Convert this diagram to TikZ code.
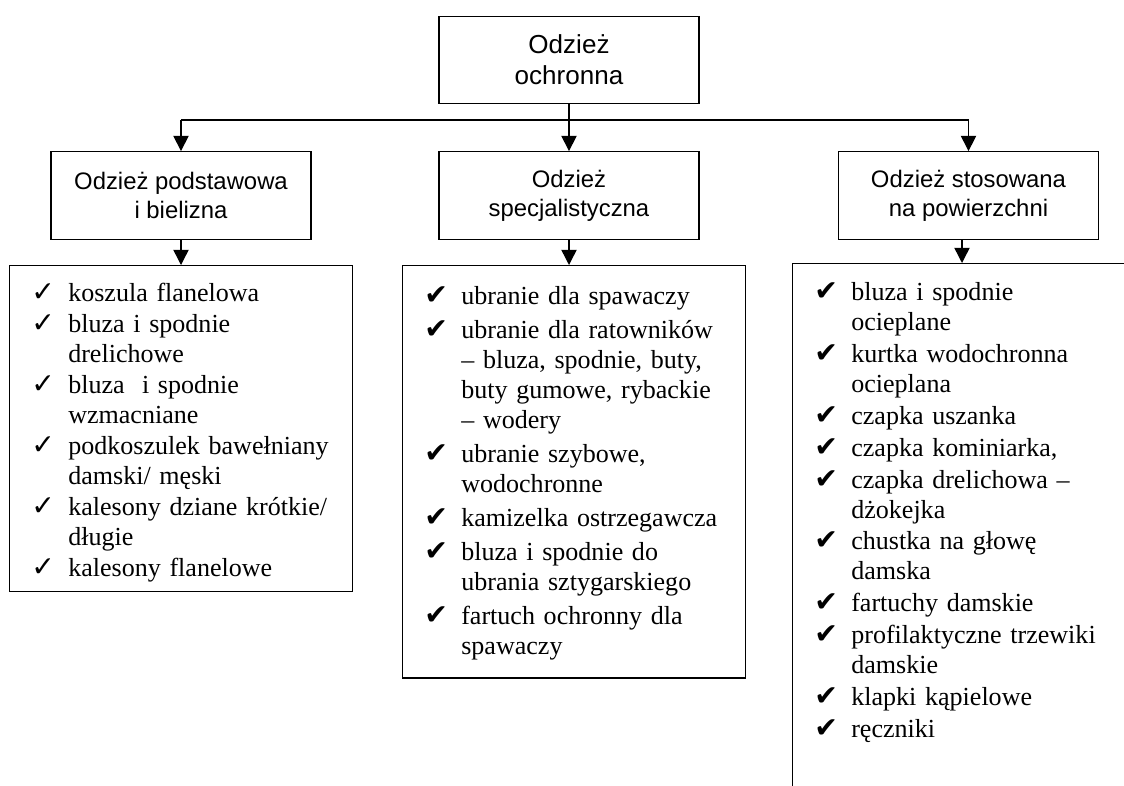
\documentclass[tikz,border=0pt]{standalone}
\usepackage{fontspec}
\setmainfont{Liberation Serif}
\newfontfamily\arial{Liberation Sans}
\newfontfamily\checkfont{DejaVu Sans}
\usetikzlibrary{arrows.meta,positioning}

\newcommand{\chk}{{\checkfont\fontsize{13}{12}\selectfont ✓}}
\newcommand{\chkb}{{\checkfont\fontsize{13}{12}\selectfont ✔}}

\begin{document}
\begin{tikzpicture}[x=0.4608pt, y=-0.4608pt, line width=0.65pt,
            box/.style = {draw, rectangle, align=center,
                minimum width=119.8pt, minimum height=40.3pt,
                font=\arial\fontsize{11}{13.4}\selectfont},
            list/.style = {draw, rectangle, anchor=north west,
                inner sep=0pt, text width=158pt, align=left,
                font=\fontsize{12}{13.8}\selectfont},
            arr/.style = {-{Triangle[width=7pt,length=7pt]}}]

        \clip[use as bounding box] (0,0) rectangle (1124,785);

        % Top box
        \node[box, font=\arial\fontsize{12}{14.3}\selectfont] (root) at (569,60) {Odzież\\ochronna};

        % Groups
        \node[box] (basic) at (181,195.5) {Odzież podstawowa\\i bielizna};
        \node[box] (special) at (569,195.5) {Odzież\\specjalistyczna};
        \node[box] (surface) at (968.5,195.5) {Odzież stosowana\\na powierzchni};

        % Bus line
        \coordinate (bus) at (569,120);
        \draw (root.south) -- (bus);
        \draw (basic.north |- bus) -- (surface.north |- bus);
        \draw[arr] (basic.north |- bus) -- (basic);
        \draw[arr] (bus) -- (special);
        \draw[arr] (surface.north |- bus) -- (surface);

        % Lists
        \node[list, text height=16.6pt, text depth=133.6pt] (basicList) at (9,265) {%
            \begin{tabular}[t]{@{\hspace{10pt}}p{17pt}@{}l@{}}
            \chk & koszula flanelowa\\[0.5pt]
            \chk & bluza i spodnie\\
                 & drelichowe\\[0.5pt]
            \chk & bluza~ i spodnie\\
                 & wzmacniane\\[0.5pt]
            \chk & podkoszulek bawełniany\\
                 & damski/ męski\\[0.5pt]
            \chk & kalesony dziane krótkie/\\
                 & długie\\[0.5pt]
            \chk & kalesony flanelowe
            \end{tabular}};

        \node[list, text height=18pt, text depth=171.9pt] (specialList) at (402,265) {%
            \begin{tabular}[t]{@{\hspace{10pt}}p{17pt}@{}l@{}}
            \chkb & ubranie dla spawaczy\\[1.9pt]
            \chkb & ubranie dla ratowników\\
                  & -- bluza, spodnie, buty,\\
                  & buty gumowe, rybackie\\
                  & -- wodery\\[1.9pt]
            \chkb & ubranie szybowe,\\
                  & wodochronne\\[1.9pt]
            \chkb & kamizelka ostrzegawcza\\[1.9pt]
            \chkb & bluza i spodnie do\\
                  & ubrania sztygarskiego\\[1.9pt]
            \chkb & fartuch ochronny dla\\
                  & spawaczy
            \end{tabular}};

        \node[list, text height=17pt, text depth=240pt] (surfaceList) at (792,263) {%
            \begin{tabular}[t]{@{\hspace{10pt}}p{17pt}@{}l@{}}
            \chkb & bluza i spodnie\\
                  & ocieplane\\[0.9pt]
            \chkb & kurtka wodochronna\\
                  & ocieplana\\[0.9pt]
            \chkb & czapka uszanka\\[0.9pt]
            \chkb & czapka kominiarka,\\[0.9pt]
            \chkb & czapka drelichowa --\\
                  & dżokejka\\[0.9pt]
            \chkb & chustka na głowę\\
                  & damska\\[0.9pt]
            \chkb & fartuchy damskie\\[0.9pt]
            \chkb & profilaktyczne trzewiki\\
                  & damskie\\[0.9pt]
            \chkb & klapki kąpielowe\\[0.9pt]
            \chkb & ręczniki
            \end{tabular}};

        % Group to list arrows
        \draw[arr] (basic.south) -- (basic.south |- basicList.north);
        \draw[arr] (special.south) -- (special.south |- specialList.north);
        \draw[arr] ([xshift=-3pt]surface.south) -- ([xshift=-3pt]surface.south |- surfaceList.north);

\end{tikzpicture}
\end{document}
